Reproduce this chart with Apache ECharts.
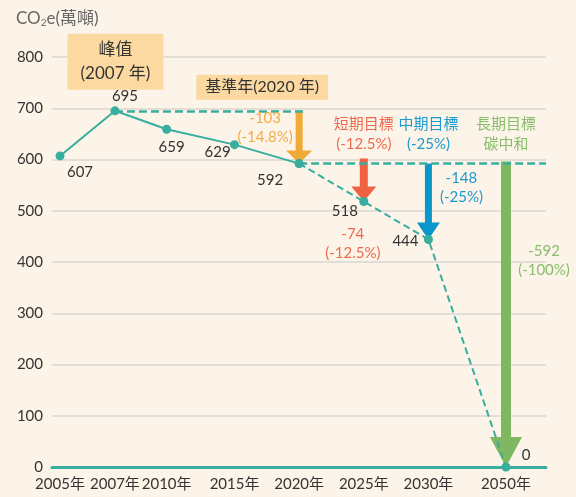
<!DOCTYPE html>
<html>
<head>
<meta charset="utf-8">
<script src="https://cdn.jsdelivr.net/npm/echarts@6/dist/echarts.min.js"></script>
<style>
  html, body { margin: 0; padding: 0; background: #FCF4E8; }
  #chart { width: 576px; height: 497px; }
</style>
</head>
<body>
<div id="chart"></div>
<script>
// Greenhouse-gas emissions (萬噸 CO2e): history and reduction targets
const yearLabels = ['2005年', '2007年', '2010年', '2015年', '2020年', '2025年', '2030年', '2050年'];
// where each year sits along the (non-linear) horizontal axis
const yearSlots = [0, 8.5, 16.5, 27, 37, 47, 57, 69];
const actualValues = [607, 695, 659, 629, 592];   // 2005 – 2020
const targetValues = [592, 518, 444, 0];          // 2020 – 2050
const yTicks = [0, 100, 200, 300, 400, 500, 600, 700, 800];

const FONT = 'Lato, "Noto Sans CJK TC", sans-serif';
const TEAL = '#38AE9F';
const TEXT = '#333333';

const peakIdx = actualValues.indexOf(Math.max(...actualValues));
const baseIdx = actualValues.length - 1;
const peakValue = actualValues[peakIdx];
const baseValue = actualValues[baseIdx];
const baseSlot = yearSlots[baseIdx];
const xMin = -1.24, xMax = 75.19;

// reduction arrows: from a reference level down to the target level
const arrows = [
  { year: 4, from: peakValue, to: baseValue },
  { year: 5, from: baseValue, to: targetValues[1] },
  { year: 6, from: baseValue, to: targetValues[2] },
  { year: 7, from: baseValue, to: targetValues[3] }
];
const arrowStyles = [
  { color: '#F1A937', text: '#F2AC45', shaft: 7, head: 26, headLen: 13, lead: 0 },
  { color: '#EF6244', text: '#EE6A4E', shaft: 8, head: 25, headLen: 15, lead: 5 },
  { color: '#0B96CB', text: '#1A9BCF', shaft: 7, head: 23, headLen: 17, lead: 0 },
  { color: '#80B862', text: '#88BD6C', shaft: 10, head: 32, headLen: 30, lead: 2 }
];
const goalTitles = ['短期目標', '中期目標', '長期目標'];

function pctText(diff, ref) {
  let p = (diff / ref * 100).toFixed(1);
  if (p.endsWith('.0')) p = p.slice(0, -2);
  return '(' + p + '%)';
}

// value labels next to each point
const actualOffsets = [[20, 16], [10, -15], [5, 18], [-17, 8], [-29, 17]];
const targetOffsets = [null, [-19, 10], [-23, 2], [20, -12]];

const actualData = actualValues.map((v, i) => ({
  value: [yearSlots[i], v],
  label: { show: true, position: 'inside', offset: actualOffsets[i] }
}));
const targetData = targetValues.map((v, i) => ({
  value: [yearSlots[baseIdx + i], v],
  label: targetOffsets[i]
    ? { show: true, position: 'inside', offset: targetOffsets[i] }
    : { show: false }
}));

const numLabel = { color: TEXT, fontSize: 15, fontFamily: FONT, formatter: p => p.value[1] };

// annotation texts, anchored to data positions
const notes = [];
notes.push({
  coord: [yearSlots[peakIdx], peakValue],
  label: {
    formatter: '峰值\n(2007 年)', offset: [0.5, -49], fontSize: 17, lineHeight: 24,
    color: TEXT, backgroundColor: '#FDD9A2', padding: [4, 13, 4, 13]
  }
});
notes.push({
  coord: [baseSlot, peakValue],
  label: {
    formatter: '基準年(2020 年)', offset: [-37, -23.5], fontSize: 16, lineHeight: 20,
    color: TEXT, backgroundColor: '#FDD9A2', padding: [3, 9, 2, 9]
  }
});
const changeOffsets = [[-34, 17], [-11, 42], [33, 24], [38, 97]];
arrows.forEach((a, i) => {
  const diff = a.to - a.from;
  notes.push({
    coord: [yearSlots[a.year], a.year === 4 ? a.from : (i === 1 ? a.to : a.from)],
    label: {
      formatter: diff + '\n' + pctText(diff, a.from), offset: changeOffsets[i],
      fontSize: 15, lineHeight: 19, color: arrowStyles[i].text
    }
  });
  if (i > 0) {
    const sub = i === 3 ? '碳中和' : pctText(diff, a.from);
    notes.push({
      coord: [yearSlots[a.year], baseValue],
      label: {
        formatter: goalTitles[i - 1] + '\n' + sub, offset: [0, -29],
        fontSize: 15, lineHeight: 20, color: arrowStyles[i].text
      }
    });
  }
});

const chart = echarts.init(document.getElementById('chart'), null, { renderer: 'canvas' });
chart.setOption({
  animation: false,
  backgroundColor: '#FCF4E8',
  textStyle: { fontFamily: FONT },
  title: {
    left: 11, top: 4,
    text: '{a|CO}{s|2}{a|e(萬噸)}',
    textStyle: {
      fontWeight: 'normal',
      rich: {
        a: { fontSize: 17, color: '#666', fontFamily: FONT, fontWeight: 'normal' },
        s: { fontSize: 10, color: '#666', fontFamily: FONT, fontWeight: 'normal', padding: [9, 0, 0, 0] }
      }
    }
  },
  grid: { left: 52, right: 30, top: 57, bottom: 30 },
  xAxis: {
    type: 'value', min: xMin, max: xMax,
    axisLine: { show: true, lineStyle: { color: TEAL, width: 3 } },
    axisTick: { show: false },
    splitLine: { show: false },
    axisLabel: {
      customValues: yearSlots,
      formatter: v => yearLabels[yearSlots.indexOf(v)] || '',
      color: TEXT, fontSize: 15, fontFamily: FONT, margin: 10
    }
  },
  yAxis: {
    type: 'value', min: yTicks[0], max: yTicks[yTicks.length - 1], interval: 100,
    axisLine: { show: false }, axisTick: { show: false },
    splitLine: { lineStyle: { color: '#DAD6D0', width: 1.5 } },
    axisLabel: { color: TEXT, fontSize: 15, fontFamily: FONT, margin: 9 }
  },
  series: [
    {
      type: 'custom', z: 1, silent: true,
      data: arrows.map(a => [yearSlots[a.year], a.from, a.to]),
      renderItem: (params, api) => {
        const s = arrowStyles[params.dataIndex];
        const top = api.coord([api.value(0), api.value(1)]);
        const tip = api.coord([api.value(0), api.value(2)]);
        const x = top[0], y0 = top[1] - s.lead, y1 = tip[1], hb = y1 - s.headLen;
        return {
          type: 'polygon',
          shape: { points: [
            [x - s.shaft / 2, y0], [x + s.shaft / 2, y0], [x + s.shaft / 2, hb],
            [x + s.head / 2, hb], [x, y1], [x - s.head / 2, hb], [x - s.shaft / 2, hb]
          ] },
          style: { fill: s.color }
        };
      }
    },
    {
      type: 'line', z: 3, data: actualData,
      lineStyle: { color: TEAL, width: 2 },
      itemStyle: { color: TEAL },
      symbol: 'circle', symbolSize: 9,
      label: numLabel,
      markLine: {
        silent: true, symbol: ['none', 'none'], z: 2,
        label: { show: false },
        lineStyle: { color: TEAL, width: 2.5, type: [8, 4] },
        data: [
          [{ coord: [yearSlots[peakIdx], peakValue] }, { coord: [baseSlot + 1.2, peakValue] }],
          [{ coord: [baseSlot, baseValue] }, { coord: [xMax, baseValue] }]
        ]
      }
    },
    {
      type: 'line', z: 3, data: targetData,
      lineStyle: { color: TEAL, width: 2, type: [7, 4] },
      itemStyle: { color: TEAL },
      symbol: 'circle', symbolSize: 9,
      label: numLabel,
      markPoint: {
        silent: true, symbol: 'circle', symbolSize: 1,
        itemStyle: { color: 'rgba(0,0,0,0)' },
        label: { show: true, position: 'inside', fontFamily: FONT },
        data: notes
      }
    }
  ]
});
</script>
</body>
</html>
